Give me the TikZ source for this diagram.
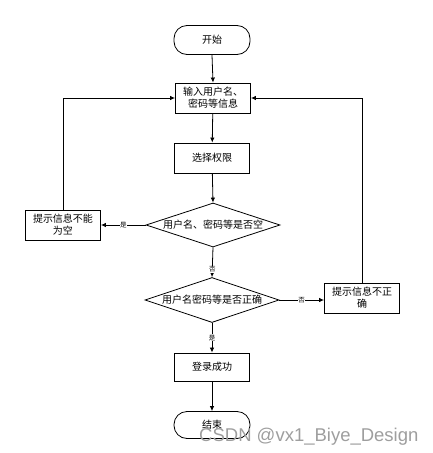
\documentclass[tikz,border=0pt]{standalone}
\usepackage{fontspec}
\newfontfamily\cjk{Noto Sans CJK SC}
\newfontfamily\wm{Liberation Sans}
\usetikzlibrary{shapes.geometric,arrows.meta,positioning}
\tikzset{
  box/.style={draw, line width=0.9pt, minimum width=75pt, minimum height=30pt, inner sep=0pt, align=center, font=\cjk\fontsize{10}{12}\selectfont},
  term/.style={draw, line width=0.8pt, rounded corners=13pt, minimum width=76pt, minimum height=29pt, inner sep=0pt, font=\cjk\fontsize{10}{12}\selectfont},
  dia/.style={draw, line width=0.8pt, diamond, inner sep=0pt},
  lbl/.style={fill=white, inner sep=0.5pt, font=\cjk\fontsize{6.5}{7}\selectfont},
  txt/.style={font=\cjk\fontsize{10}{12}\selectfont, inner sep=0pt},
  arr/.style={line width=0.8pt, -{Latex[length=5pt,width=4.5pt]}}
}
\begin{document}
\begin{tikzpicture}[x=1pt,y=-1pt]
\useasboundingbox (0,0) rectangle (432,453);
\node[term] (start) at (212,40) {开始};
\node[box] (input) at (213,98) {输入用户名、\\密码等信息};
\node[box] (select) at (212,158) {选择权限};
\node[dia, minimum width=134pt, minimum height=44pt] (d1) at (213,225) {};
\node[txt] at (d1) {用户名、密码等是否空};
\node[box] (empty) at (63,225) {提示信息不能\\为空};
\node[dia, minimum width=134pt, minimum height=45pt] (d2) at (212,300) {};
\node[txt] at (d2) {用户名密码等是否正确};
\node[box] (wrong) at (362,298) {提示信息不正\\确};
\node[box, minimum height=28pt] (ok) at (212,367) {登录成功};
\node[term, minimum height=27pt] (end) at (212,425) {结束};

\draw[arr] (start.south) -- (input.north);
\draw[arr] (input) -- (select);
\draw[arr] (select) -- (d1.north);
\draw[arr] (d1.west) -- node[lbl]{是} (empty.east);
\draw[arr] (d1.south) -- node[lbl, pos=0.75]{否} (d2.north);
\draw[arr] (d2.east) -- node[lbl]{否} (wrong.west |- d2.east);
\draw[arr] (d2.south) -- node[lbl]{是} (ok.north);
\draw[arr] (ok) -- (end);
\draw[arr] (empty.north) |- (input.west);
\draw[arr] (wrong.north) |- (input.east);

\node[anchor=base west, inner sep=0pt, text=black!38, font=\wm\fontsize{18.5}{22}\selectfont] (mark) at (199,441) {CSDN @vx1\_Biye\_Design};
\end{tikzpicture}
\end{document}
